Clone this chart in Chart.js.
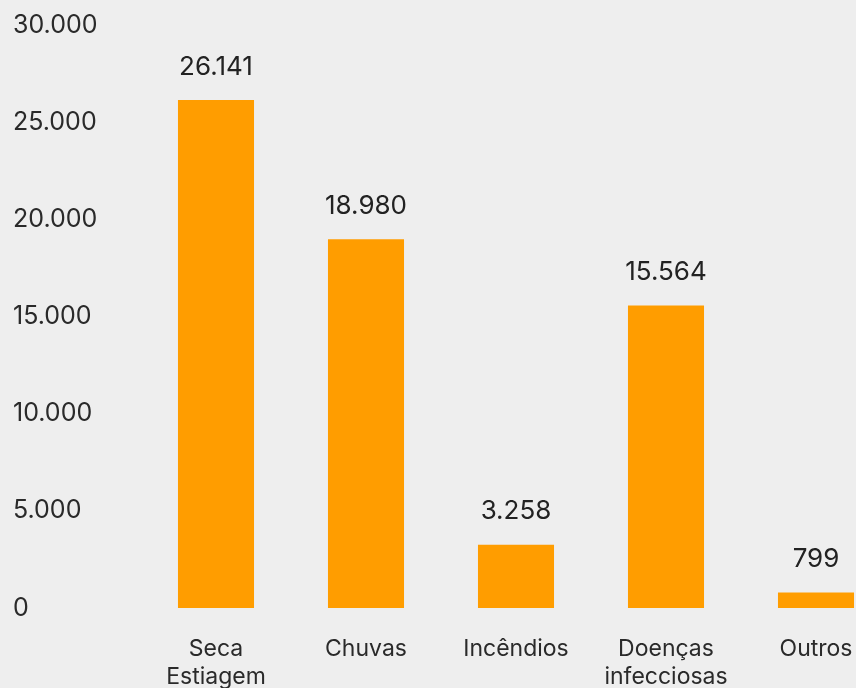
<!DOCTYPE html>
<html>
<head>
<meta charset="utf-8">
<script src="https://cdn.jsdelivr.net/npm/chart.js@4"></script>
<style>
  html, body { margin: 0; padding: 0; background: #eeeeee; overflow: hidden; }
  #wrap { position: relative; width: 900px; height: 688px; }
</style>
</head>
<body>
<div id="wrap"><canvas id="myChart"></canvas></div>
<script>
// dados do gráfico
const categorias = [['Seca', 'Estiagem'], 'Chuvas', 'Incêndios', ['Doenças', 'infecciosas'], 'Outros'];
const valores = [26141, 18980, 3258, 15564, 799];
const yTicks = [0, 5000, 10000, 15000, 20000, 25000, 30000];

function formatBR(n) {
	return String(n).replace(/\B(?=(\d{3})+(?!\d))/g, '.');
}

// desenha os valores acima das barras
const valueLabels = {
	id: 'valueLabels',
	afterDatasetsDraw(chart) {
		const ctx = chart.ctx;
		const meta = chart.getDatasetMeta(0);
		ctx.save();
		ctx.font = '400 26px Inter, "Noto Sans", sans-serif';
		ctx.fillStyle = '#222222';
		ctx.textAlign = 'center';
		ctx.textBaseline = 'middle';
		meta.data.forEach((bar, i) => {
			ctx.fillText(formatBR(valores[i]), bar.x, bar.y - 33);
		});
		ctx.restore();
	}
};

const config = {
	type: 'bar',
	data: {
		labels: categorias,
		datasets: [{
			data: valores,
			backgroundColor: '#ff9d00',
			borderWidth: 0,
			categoryPercentage: 1,
			barPercentage: 0.507
		}]
	},
	options: {
		responsive: true,
		maintainAspectRatio: false,
		animation: false,
		layout: { padding: { left: 13, top: 25, right: 9, bottom: 0 } },
		plugins: { legend: { display: false }, tooltip: { enabled: false } },
		scales: {
			x: {
				grid: { display: false, drawTicks: false },
				border: { display: false },
				afterFit(axis) { axis.height = 80; },
				ticks: {
					color: '#2a2a2a',
					padding: 27,
					maxRotation: 0,
					autoSkip: false,
					font: { family: 'Inter', size: 23, lineHeight: 1.22 }
				}
			},
			y: {
				min: 0,
				max: 30000,
				afterBuildTicks(axis) {
					axis.ticks = yTicks.map(v => ({ value: v }));
				},
				afterFit(axis) { axis.width = 128; },
				grid: { display: false, drawTicks: false },
				border: { display: false },
				ticks: {
					color: '#2a2a2a',
					crossAlign: 'far',
					padding: 0,
					font: { family: 'Inter', size: 25 },
					callback: v => formatBR(v)
				}
			}
		}
	},
	plugins: [valueLabels]
};

new Chart(document.getElementById('myChart'), config);
</script>
</body>
</html>
